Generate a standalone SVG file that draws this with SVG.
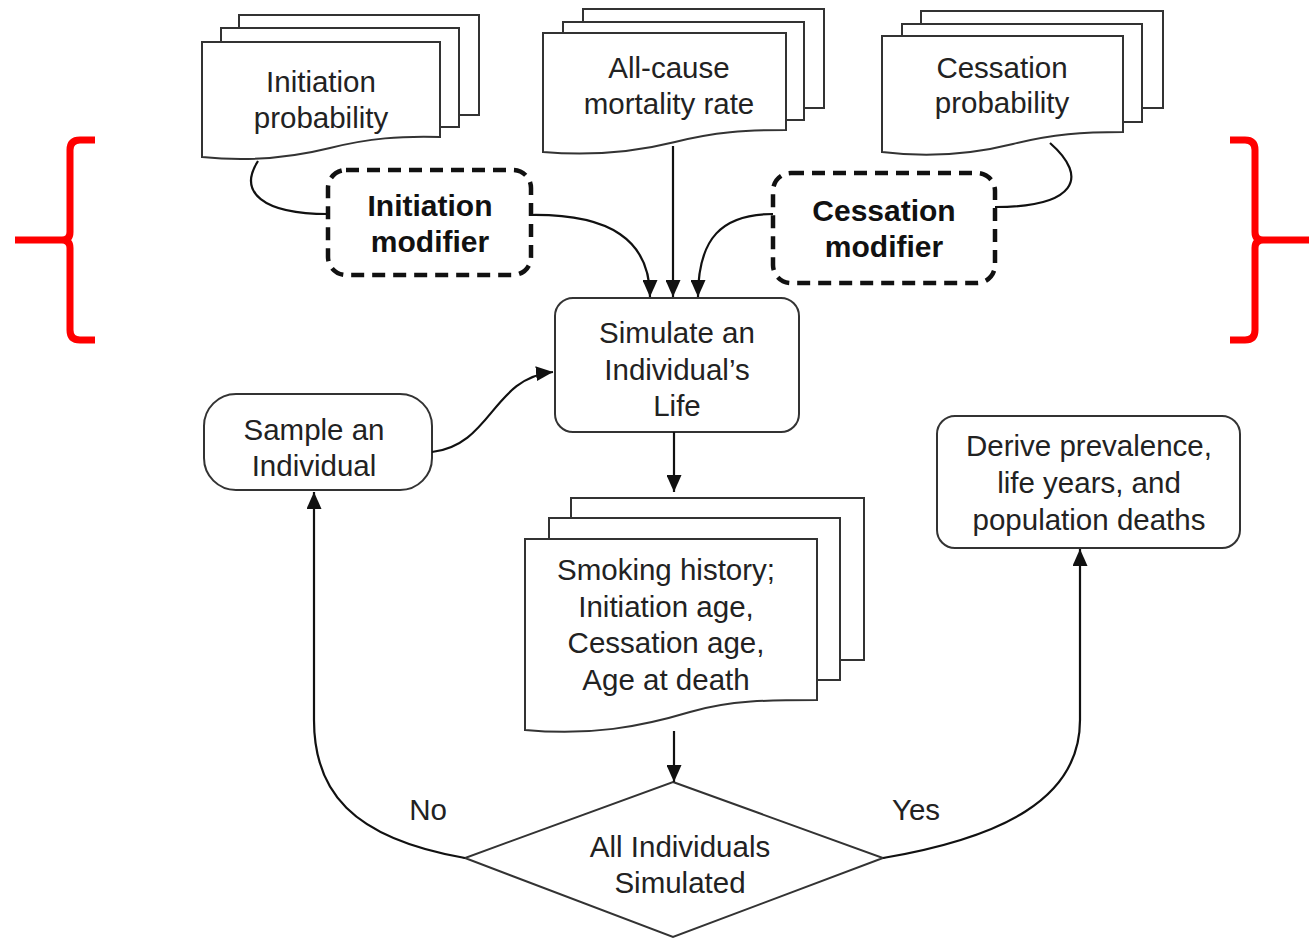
<svg xmlns="http://www.w3.org/2000/svg" width="1309" height="939" viewBox="0 0 1309 939">
<defs>
<style>
.sheet{fill:#fff;stroke:#333;stroke-width:2}
.box{fill:#fff;stroke:#333;stroke-width:2}
.dash{fill:#fff;stroke:#111;stroke-width:4.5;stroke-dasharray:13 8}
.t{font-family:"Liberation Sans",Arial,sans-serif;font-size:29.5px;fill:#222;text-anchor:middle}
.b{font-family:"Liberation Sans",Arial,sans-serif;font-size:30px;font-weight:bold;fill:#111;text-anchor:middle}
.c{fill:none;stroke:#111;stroke-width:2.2}
.red{fill:none;stroke:#f00;stroke-width:7;stroke-linecap:butt}
</style>
<marker id="ah" viewBox="0 0 17 15" refX="17" refY="7.5" markerWidth="17" markerHeight="15" orient="auto" markerUnits="userSpaceOnUse">
<path d="M0,0 L17,7.5 L0,15 Z" fill="#111"/>
</marker>
</defs>
<rect width="1309" height="939" fill="#fff"/>

<g id="brackets">
<path class="red" d="M95,140 H80 Q70,140 70,150 V232 Q70,240 62,240 H15 M62,240 Q70,240 70,248 V330 Q70,340 80,340 H95"/>
<path class="red" d="M1230,140 H1245 Q1255,140 1255,150 V232 Q1255,240 1263,240 H1309 M1263,240 Q1255,240 1255,248 V330 Q1255,340 1245,340 H1230"/>
</g>

<g id="initiation-probability">
<rect class="sheet" x="239" y="15" width="240" height="100"/>
<rect class="sheet" x="221" y="28" width="238" height="99"/>
<path class="sheet" d="M202,42 H440 V137 C400,136 370,138 330,148 C290,158 250,162 202,157 Z"/>
<text class="t" x="321" y="92">Initiation</text>
<text class="t" x="321" y="128">probability</text>
</g>

<g id="all-cause-mortality">
<rect class="sheet" x="583" y="9" width="241" height="99"/>
<rect class="sheet" x="563" y="22" width="241" height="98"/>
<path class="sheet" d="M543,33 H786 V130 C745,130 715,132 675,142 C635,152 590,156 543,152 Z"/>
<text class="t" x="669" y="78">All-cause</text>
<text class="t" x="669" y="114">mortality rate</text>
</g>

<g id="cessation-probability">
<rect class="sheet" x="921" y="11" width="242" height="97"/>
<rect class="sheet" x="902" y="24" width="240" height="98"/>
<path class="sheet" d="M882,36 H1123 V132 C1083,132 1053,134 1013,144 C973,154 930,158 882,152 Z"/>
<text class="t" x="1002" y="78">Cessation</text>
<text class="t" x="1002" y="113">probability</text>
</g>

<g id="initiation-modifier">
<rect class="dash" x="328" y="170" width="203" height="105" rx="18"/>
<text class="b" x="430" y="216">Initiation</text>
<text class="b" x="430" y="252">modifier</text>
</g>

<g id="cessation-modifier">
<rect class="dash" x="773" y="173" width="222" height="110" rx="18"/>
<text class="b" x="884" y="221">Cessation</text>
<text class="b" x="884" y="257">modifier</text>
</g>

<g id="simulate">
<rect class="box" x="555" y="298" width="244" height="134" rx="18"/>
<text class="t" x="677" y="343">Simulate an</text>
<text class="t" x="677" y="380">Individual’s</text>
<text class="t" x="677" y="416">Life</text>
</g>

<g id="sample">
<rect class="box" x="204" y="394" width="228" height="96" rx="32"/>
<text class="t" x="314" y="440">Sample an</text>
<text class="t" x="314" y="476">Individual</text>
</g>

<g id="derive">
<rect class="box" x="937" y="416" width="303" height="132" rx="18"/>
<text class="t" x="1089" y="456">Derive prevalence,</text>
<text class="t" x="1089" y="493">life years, and</text>
<text class="t" x="1089" y="530">population deaths</text>
</g>

<g id="smoking-history">
<rect class="sheet" x="571" y="498" width="293" height="162"/>
<rect class="sheet" x="549" y="518" width="291" height="162"/>
<path class="sheet" d="M525,539 H817 V700 C770,700 730,700 690,712 C640,727 590,736 525,730 Z"/>
<text class="t" x="666" y="580">Smoking history;</text>
<text class="t" x="666" y="617">Initiation age,</text>
<text class="t" x="666" y="653">Cessation age,</text>
<text class="t" x="666" y="690">Age at death</text>
</g>

<g id="decision">
<path class="box" d="M673,782 L883,858 L673,937 L465,858 Z"/>
<text class="t" x="680" y="857">All Individuals</text>
<text class="t" x="680" y="893">Simulated</text>
</g>

<g id="connectors">
<path class="c" d="M258,161 C238,192 262,214 328,214"/>
<path class="c" d="M531,215 C610,214 650,240 650,297" marker-end="url(#ah)"/>
<path class="c" d="M673,146 V297" marker-end="url(#ah)"/>
<path class="c" d="M773,214 C722,214 698,238 698,297" marker-end="url(#ah)"/>
<path class="c" d="M1050,143 C1090,178 1075,207 995,207"/>
<path class="c" d="M432,452 C492,445 492,378 553,372" marker-end="url(#ah)"/>
<path class="c" d="M674,432 V492" marker-end="url(#ah)"/>
<path class="c" d="M674,731 V782" marker-end="url(#ah)"/>
<path class="c" d="M465,858 C350,838 314,790 314,720 V492" marker-end="url(#ah)"/>
<path class="c" d="M883,858 C1000,838 1080,800 1080,720 V549" marker-end="url(#ah)"/>
<text class="t" x="428" y="820">No</text>
<text class="t" x="916" y="820">Yes</text>
</g>
</svg>
